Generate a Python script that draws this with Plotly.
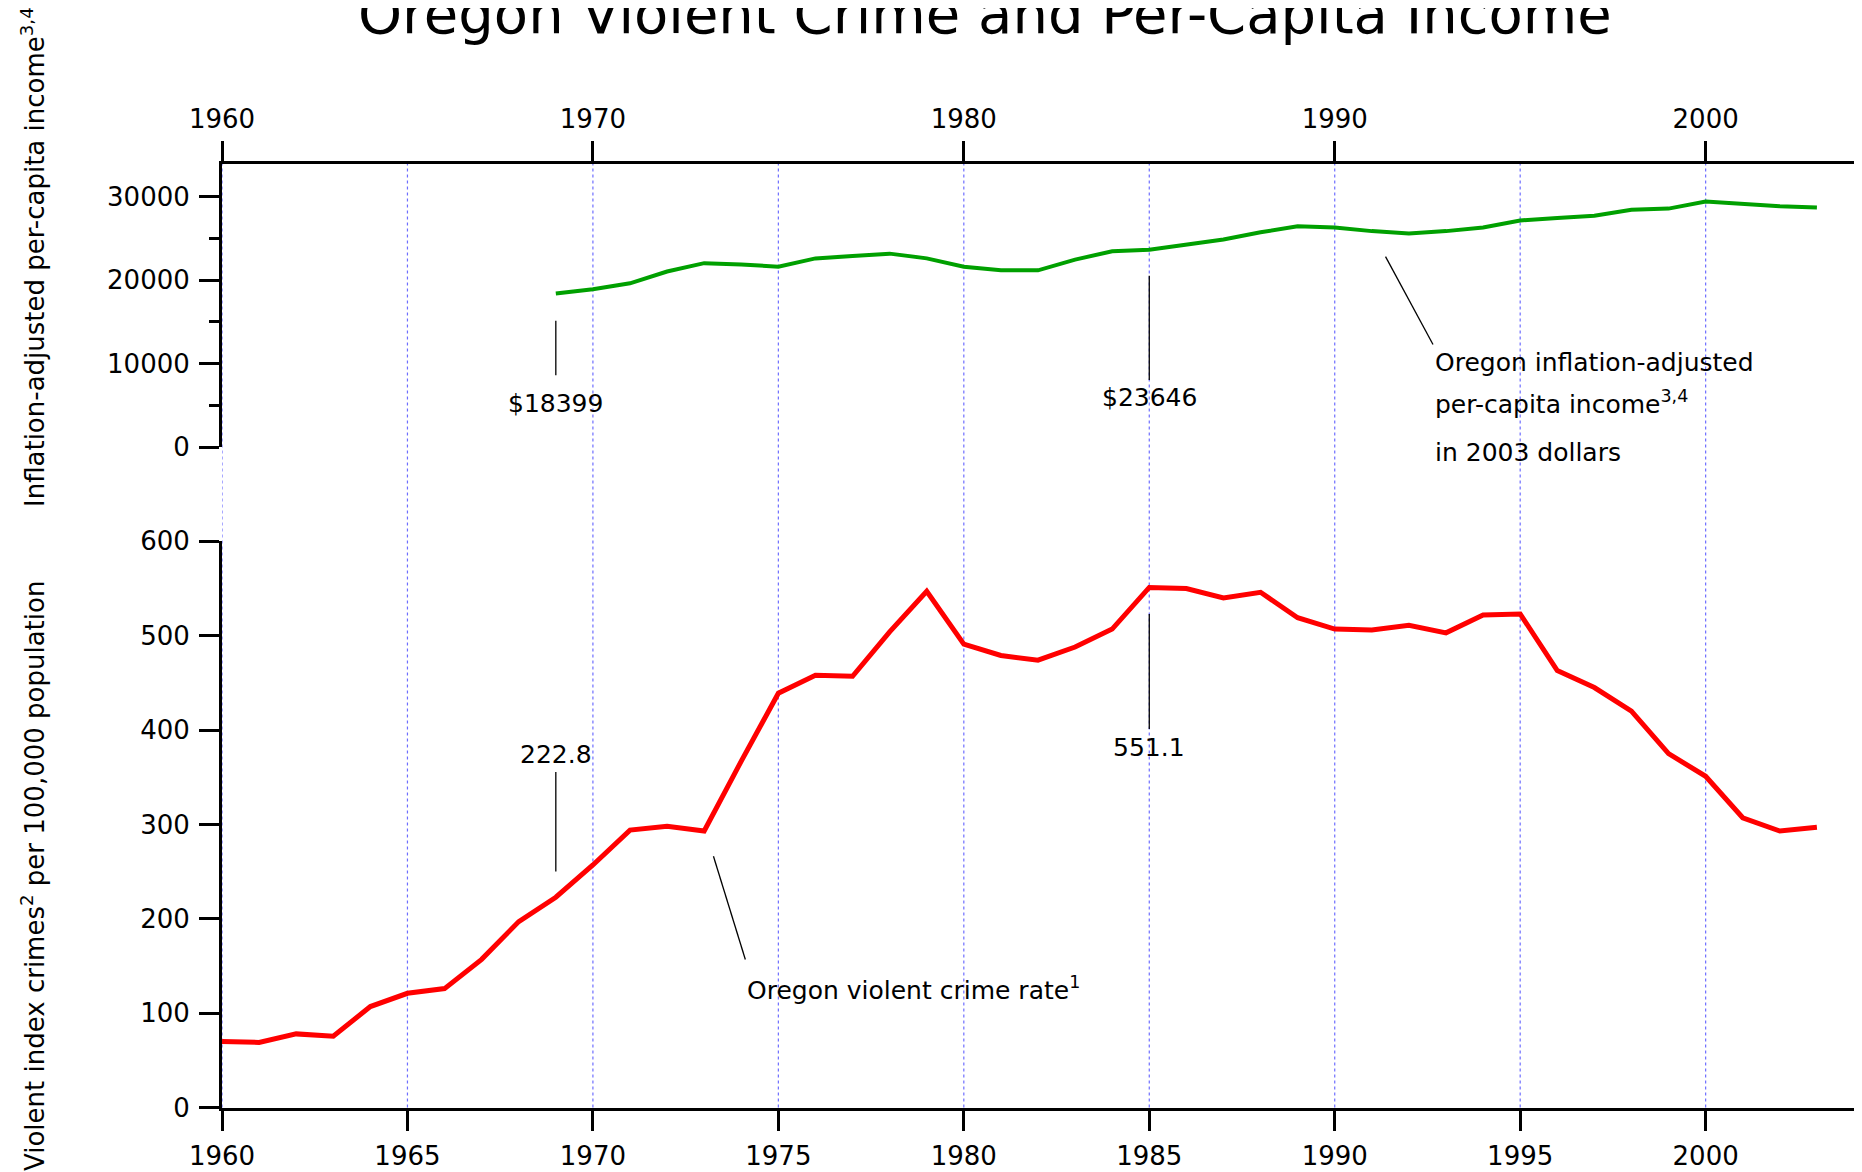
import plotly.graph_objects as go

# ---------------- data ----------------
years = list(range(1960, 2004))
crime_rate = [70, 69, 78, 75.5, 107, 121, 126, 157, 197, 222.8,
              257, 294, 298, 293, 367, 439, 458, 457, 504, 547,
              491, 479, 474, 488, 507, 551.1, 550, 540, 546, 519,
              507, 506, 511, 503, 522, 523, 463, 445, 420, 375,
              351, 307, 293, 297]

income_years = list(range(1969, 2004))
income = [18399, 18920, 19630, 21050, 22050, 21900, 21620, 22620, 22900, 23190,
          22620, 21620, 21190, 21190, 22470, 23470, 23646, 24320, 24890, 25750,
          26460, 26320, 25890, 25600, 25890, 26320, 27170, 27450, 27740, 28450,
          28590, 29450, 29160, 28880, 28730]

bottom_ticks = [1960, 1965, 1970, 1975, 1980, 1985, 1990, 1995, 2000]
top_ticks = [1960, 1970, 1980, 1990, 2000]
crime_ticks = [0, 100, 200, 300, 400, 500, 600]
income_ticks = [0, 10000, 20000, 30000]
income_tick_text = ["0", "10000", "20000", "30000"]

title = "Oregon Violent Crime and Per-Capita Income"
income_axis_title = "Inflation-adjusted per-capita income<sup>3,4</sup>"
crime_axis_title = "Violent index crimes<sup>2</sup> per 100,000 population"

# ---------------- layout geometry ----------------
OFF = 8                      # page body margin
W, H = 1862 - OFF, 1172 - OFF
FONT = "DejaVu Sans"
L = 222 - OFF
PW = 1632


def fy(px):
    return 1 - (px - OFF) / H


def fx(px):
    return (px - OFF - L) / PW


bot_dom = [fy(1107.5), fy(541.3)]
top_dom = [fy(447.0), fy(163.5)]

fig = go.Figure()
fig.add_trace(go.Scatter(x=years, y=crime_rate, mode="lines",
                         line=dict(color="rgb(255,0,0)", width=5),
                         xaxis="x", yaxis="y", showlegend=False, hoverinfo="skip"))
fig.add_trace(go.Scatter(x=income_years, y=income, mode="lines",
                         line=dict(color="rgb(0,160,0)", width=4),
                         xaxis="x2", yaxis="y2", showlegend=False, hoverinfo="skip"))

axis_common = dict(showline=True, linecolor="black", linewidth=3,
                   ticks="outside", ticklen=20, tickwidth=3, tickcolor="black",
                   showgrid=False, zeroline=False, automargin=False,
                   tickfont=dict(family=FONT, size=26, color="black"))

fig.update_layout(
    width=W, height=H,
    margin=dict(l=L, r=W - L - PW, t=0, b=0, autoexpand=False),
    paper_bgcolor="white", plot_bgcolor="white",
    font=dict(family=FONT, color="black"),
    xaxis=dict(domain=[0, 1], anchor="y", range=[1960, 2004],
               tickvals=bottom_ticks, ticklabelstandoff=3, **axis_common),
    xaxis2=dict(domain=[0, 1], anchor="y2", side="top", range=[1960, 2004],
                matches="x", tickvals=top_ticks, ticklabelstandoff=2, **axis_common),
    yaxis=dict(domain=bot_dom, anchor="x", range=[0, 600],
               tickvals=crime_ticks, ticklabelstandoff=4, **axis_common),
    yaxis2=dict(domain=top_dom, anchor="x2", range=[0, 34000],
                tickvals=income_ticks, ticktext=income_tick_text, ticklabelstandoff=4,
                minor=dict(dtick=5000, ticks="outside", ticklen=10,
                           tickwidth=3, tickcolor="black"),
                **axis_common),
)

# vertical dotted grid lines spanning both panels
shapes = []
for yr in bottom_ticks:
    shapes.append(dict(type="line", xref="x", yref="paper", x0=yr, x1=yr,
                       y0=bot_dom[0], y1=top_dom[1], layer="below",
                       line=dict(color="rgb(110,110,255)", width=1.2, dash="3px,3px")))

# leader lines for the callouts
leaders_top = [((1969, 15150), (1969, 8590)),
               ((1985, 20550), (1985, 8030)),
               ((1991.37, 22830), (1992.65, 12300))]
leaders_bot = [((1969, 355.6), (1969, 250)),
               ((1985, 523), (1985, 401)),
               ((1973.25, 266.3), (1974.11, 156.8))]
for (a, b) in leaders_top:
    shapes.append(dict(type="line", xref="x2", yref="y2", x0=a[0], y0=a[1],
                       x1=b[0], y1=b[1], line=dict(color="black", width=1.3)))
for (a, b) in leaders_bot:
    shapes.append(dict(type="line", xref="x", yref="y", x0=a[0], y0=a[1],
                       x1=b[0], y1=b[1], line=dict(color="black", width=1.3)))
fig.update_layout(shapes=shapes)

af = dict(family=FONT, size=25, color="black")
ann = [
    dict(text="$18399", x=1969, y=5180, xref="x2", yref="y2", xanchor="center", yanchor="middle"),
    dict(text="$23646", x=1985, y=5900, xref="x2", yref="y2", xanchor="center", yanchor="middle"),
    dict(text="Oregon inflation-adjusted", x=1992.65, y=fy(362), xref="x2", yref="paper",
         xanchor="left", yanchor="middle"),
    dict(text="per-capita income<sup>3,4</sup>", x=1992.65, y=fy(402), xref="x2", yref="paper",
         xanchor="left", yanchor="middle"),
    dict(text="in 2003 dollars", x=1992.65, y=fy(452), xref="x2", yref="paper",
         xanchor="left", yanchor="middle"),
    dict(text="222.8", x=1969, y=374.6, xref="x", yref="y", xanchor="center", yanchor="middle"),
    dict(text="551.1", x=1985, y=382, xref="x", yref="y", xanchor="center", yanchor="middle"),
    dict(text="Oregon violent crime rate<sup>1</sup>", x=1974.11, y=126.6, xref="x", yref="y",
         xanchor="left", yanchor="middle"),
]
for a in ann:
    a.update(showarrow=False, font=af)

tf = dict(family=FONT, size=26, color="black")
ann.append(dict(text=title, xref="paper", yref="paper", x=fx(985), y=fy(14),
                xanchor="center", yanchor="middle", showarrow=False,
                font=dict(family=FONT, size=56, color="black")))
ann.append(dict(text=income_axis_title, xref="paper", yref="paper", x=fx(33),
                y=fy(257), xanchor="center", yanchor="middle", textangle=-90,
                showarrow=False, font=tf))
ann.append(dict(text=crime_axis_title, xref="paper", yref="paper", x=fx(33),
                y=fy(876), xanchor="center", yanchor="middle", textangle=-90,
                showarrow=False, font=tf))
fig.update_layout(annotations=ann)

fig.write_html("out.html")
